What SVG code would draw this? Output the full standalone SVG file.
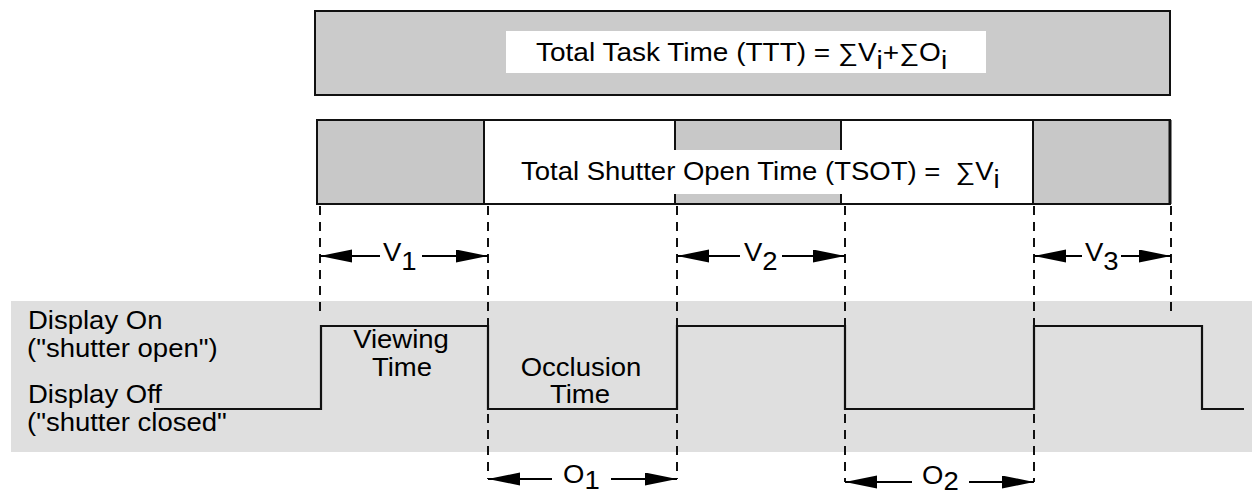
<svg xmlns="http://www.w3.org/2000/svg" width="1252" height="496" viewBox="0 0 1252 496">
<style>
.t{font-family:"Liberation Sans",Arial,Helvetica,sans-serif;font-size:25px;fill:#000}
.mid{text-anchor:middle}
.box{stroke:#111;stroke-width:2}
.dash{stroke:#111;stroke-width:2;stroke-dasharray:9 7;fill:none}
.arr{stroke:#000;stroke-width:2;fill:none;marker-end:url(#ah)}
.sig{stroke:#111;stroke-width:2.2;fill:none}
</style>
<defs>
<marker id="ah" markerUnits="userSpaceOnUse" markerWidth="32" markerHeight="14" refX="32" refY="6.5" orient="auto">
<path d="M0,0 L32,6.5 L0,13 Z" fill="#000"/>
</marker>
</defs>
<g id="signal-band">
<rect x="11" y="301" width="1241" height="151" fill="#dfdfdf"/>
</g>
<g id="ttt-box">
<rect class="box" x="315" y="11" width="855" height="84" fill="#cbcbcb"/>
<rect x="506" y="31" width="480" height="42" fill="#fff"/>
<text class="t" transform="translate(536,61) scale(1.12,1)">Total Task Time (TTT) = ∑V<tspan dy="8">i</tspan><tspan dy="-8">+∑O</tspan><tspan dy="8">i</tspan></text>
</g>
<g id="tsot-bar">
<rect x="317" y="120" width="853" height="84" fill="#fff"/>
<rect x="317" y="120" width="167" height="84" fill="#c8c8c8"/>
<rect x="675" y="120" width="166" height="84" fill="#c8c8c8"/>
<rect x="1033" y="120" width="137" height="84" fill="#c8c8c8"/>
<path class="box" d="M484,120V204M675,120V204M841,120V204M1033,120V204" fill="none"/>
<rect class="box" x="317" y="120" width="853" height="84" fill="none"/>
<path d="M1170,120V204" stroke="#111" stroke-width="3"/>
<rect x="514" y="150" width="498" height="44" fill="#fff"/>
<text class="t" transform="translate(521,180) scale(1.1,1)">Total Shutter Open Time (TSOT) =&#160; ∑V<tspan dy="8">i</tspan></text>
</g>
<g id="display-labels">
<text class="t" transform="translate(28,329) scale(1.1,1)">Display On</text>
<text class="t" transform="translate(27,357) scale(1.1,1)">("shutter open")</text>
<text class="t" transform="translate(28,403) scale(1.1,1)">Display Off</text>
<text class="t" transform="translate(27,431) scale(1.1,1)">("shutter closed"</text>
</g>
<g id="viewing-time">
<text class="t mid" transform="translate(401,348) scale(1.1,1)">Viewing</text>
<text class="t mid" transform="translate(402,376) scale(1.1,1)">Time</text>
</g>
<g id="occlusion-time">
<text class="t mid" transform="translate(581,376) scale(1.1,1)">Occlusion</text>
<text class="t mid" transform="translate(580,403) scale(1.1,1)">Time</text>
</g>
<g id="signal">
<path class="sig" d="M154,409H321V326H488V409H677V326H845V409H1034V326H1202V409H1244"/>
</g>
<g id="connectors">
<path class="dash" d="M320,206V318M488,206V479M677,206V479M845,206V482M1034,206V482M1171,206V316"/>
<path class="arr" d="M380,256H320"/>
<path class="arr" d="M422,256H488"/>
<path class="arr" d="M740,256H677"/>
<path class="arr" d="M782,256H845"/>
<path class="arr" d="M1082,256H1034"/>
<path class="arr" d="M1121,256H1171"/>
<path class="arr" d="M552,479H488"/>
<path class="arr" d="M611,479H677"/>
<path class="arr" d="M912,482H845"/>
<path class="arr" d="M969,482H1034"/>
</g>
<g id="v-labels">
<text class="t" transform="translate(383,261) scale(1.1,1)">V<tspan dy="9">1</tspan></text>
<text class="t" transform="translate(744,261) scale(1.1,1)">V<tspan dy="9">2</tspan></text>
<text class="t" transform="translate(1085,261) scale(1.1,1)">V<tspan dy="9">3</tspan></text>
</g>
<g id="o-labels">
<text class="t" transform="translate(563,483) scale(1.1,1)">O<tspan dy="6">1</tspan></text>
<text class="t" transform="translate(922,484) scale(1.1,1)">O<tspan dy="6">2</tspan></text>
</g>
</svg>
